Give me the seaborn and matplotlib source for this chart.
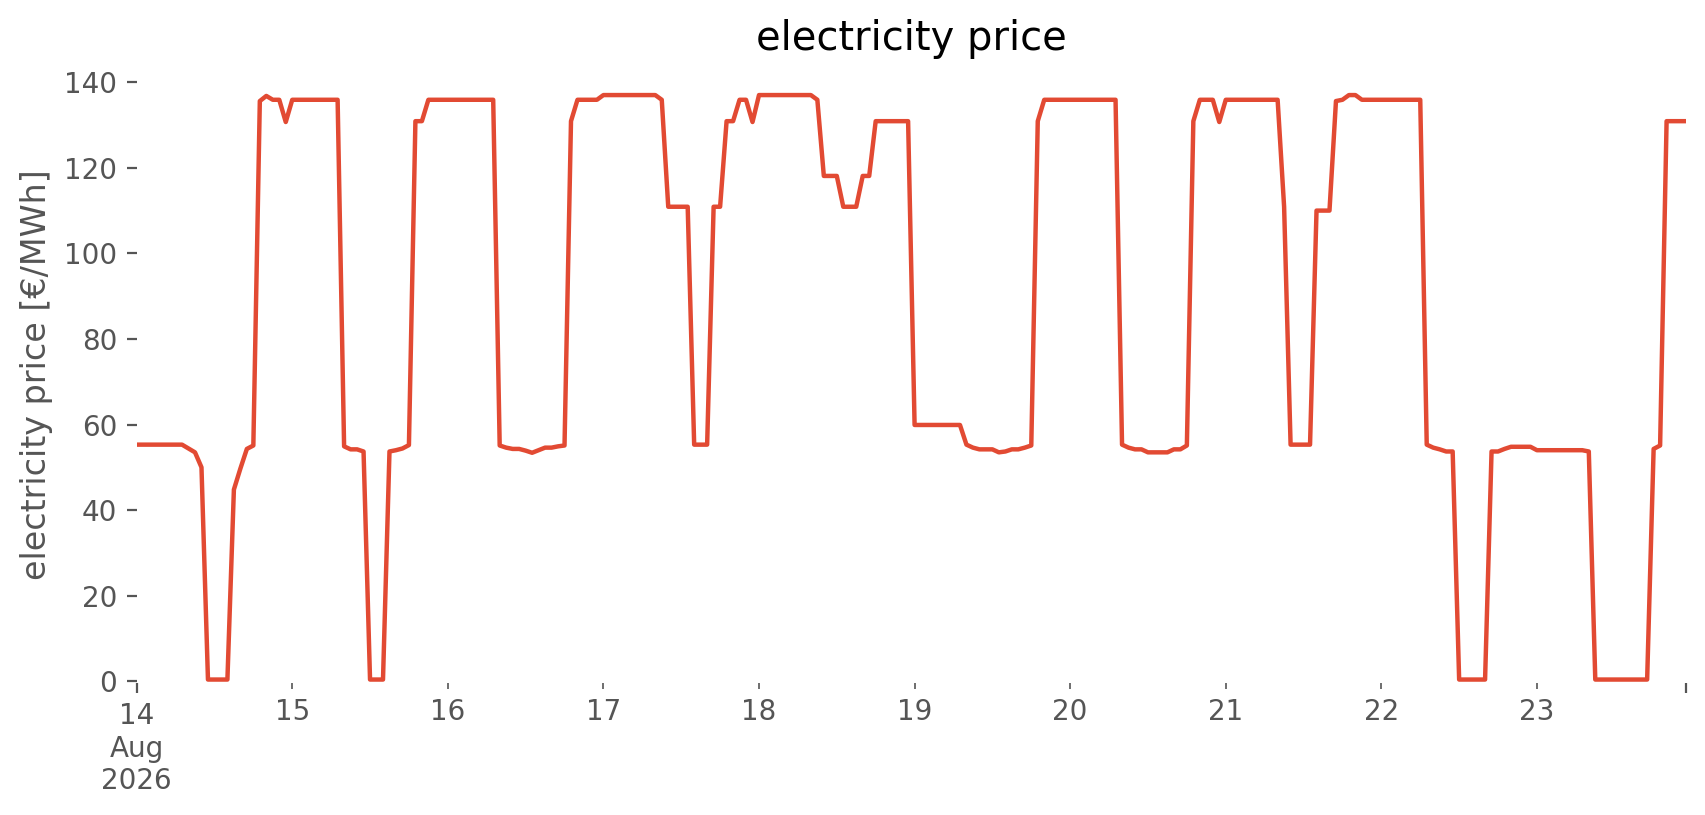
import matplotlib
matplotlib.use("Agg")
import matplotlib.pyplot as plt
import matplotlib.dates as mdates
from matplotlib.ticker import FixedLocator, FixedFormatter
import pandas as pd
import seaborn as sns

plt.style.use("ggplot")
plt.rcParams.update({"axes.facecolor": "white", "axes.grid": False,
                     "font.family": ["DejaVu Sans"]})

# hourly electricity price [€/MWh], one list per day (00:00 .. 23:00)
start_date = "2026-08-14 00:00"
day_14 = [55.3] * 8 + [54.4, 53.5, 50.0, 0.4, 0.4, 0.4, 0.4, 44.8, 49.7, 54.3,
                       55.1, 135.6, 136.8, 135.9, 135.9, 130.7]
day_15 = [135.9] * 8 + [54.9, 54.2, 54.2, 53.7, 0.4, 0.4, 0.4, 53.7, 54.0, 54.4,
                        55.2, 130.9, 130.9, 135.9, 135.9, 135.9]
day_16 = [135.9] * 8 + [55.1, 54.6, 54.3, 54.3, 53.9, 53.4, 54.0, 54.6, 54.6, 54.9,
                        55.1, 130.9, 135.9, 135.9, 135.9, 135.9]
day_17 = [137.0] * 9 + [135.9, 110.9, 110.9, 110.9, 110.9, 55.3, 55.3, 55.3,
                        110.9, 110.9, 130.9, 130.9, 135.9, 135.9, 130.7]
day_18 = [137.0] * 9 + [135.9, 118.1, 118.1, 118.1, 110.9, 110.9, 110.9, 118.1,
                        118.1, 130.9, 130.9, 130.9, 130.9, 130.9, 130.9]
day_19 = [59.9] * 8 + [55.3, 54.6, 54.2, 54.2, 54.2, 53.5, 53.7, 54.2, 54.2, 54.6,
                       55.1, 130.9, 135.9, 135.9, 135.9, 135.9]
day_20 = [135.9] * 8 + [55.3, 54.6, 54.2, 54.2, 53.5, 53.5, 53.5, 53.5, 54.2, 54.2,
                        55.1, 130.9, 135.9, 135.9, 135.9, 130.7]
day_21 = [135.9] * 9 + [110.9, 55.3, 55.3, 55.3, 55.3, 110.0, 110.0, 110.0,
                        135.6, 135.9, 137.0, 137.0, 135.9, 135.9, 135.9]
day_22 = [135.9] * 7 + [55.3, 54.6, 54.2, 53.7, 53.7, 0.4, 0.4, 0.4, 0.4, 0.4,
                        53.7, 53.7, 54.3, 54.8, 54.8, 54.8, 54.8]
day_23 = [54.0] * 8 + [53.7] + [0.4] * 9 + [54.3, 55.1, 130.9, 130.9, 130.9, 130.9]

prices = (day_14 + day_15 + day_16 + day_17 + day_18 + day_19 + day_20
          + day_21 + day_22 + day_23)
times = pd.date_range(start_date, periods=len(prices), freq="h")
df = pd.DataFrame({"time": times, "price": prices})

day_labels = ["14\nAug\n2026", "15", "16", "17", "18", "19", "20", "21", "22", "23"]
days = pd.date_range(start_date, periods=len(day_labels), freq="D")

fig, ax = plt.subplots(figsize=(8.53, 4.075), dpi=200)
fig.subplots_adjust(left=0.0801, right=0.9883, bottom=0.162, top=0.918)

sns.lineplot(data=df, x="time", y="price", ax=ax, color="#E24A33", linewidth=1.6)

ax.set_xlim(times[0], times[-1])
ax.set_ylim(-0.4, 143.6)
ax.set_yticks(range(0, 141, 20))

ax.xaxis.set_major_locator(FixedLocator(mdates.date2num([times[0], times[-1]])))
ax.xaxis.set_major_formatter(FixedFormatter([day_labels[0], ""]))
ax.xaxis.set_minor_locator(FixedLocator(mdates.date2num(days[1:])))
ax.xaxis.set_minor_formatter(FixedFormatter(day_labels[1:]))
ax.tick_params(axis="x", which="both", labelsize=10, colors="#555555")
for lab in ax.get_xticklabels():
    lab.set_ha("center")

ax.set_xlabel("")
ax.set_ylabel("electricity price [€/MWh]")
ax.set_title("electricity price")
for s in ax.spines.values():
    s.set_visible(False)

fig.savefig("out.png", dpi=200)
